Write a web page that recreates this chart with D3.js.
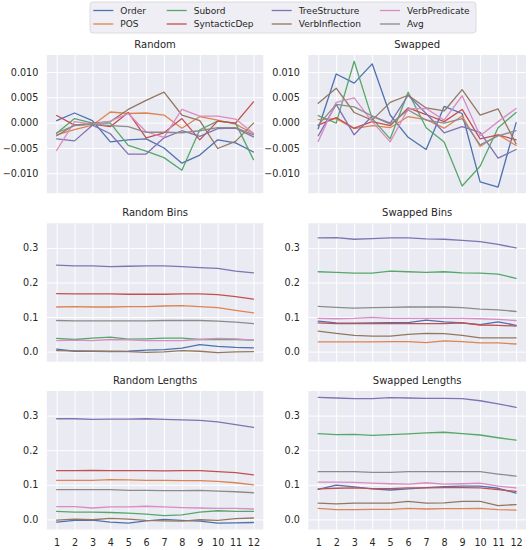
<!DOCTYPE html>
<html>
<head>
<meta charset="utf-8">
<script src="https://cdn.jsdelivr.net/npm/d3@7"></script>
<style>
  html, body { margin: 0; padding: 0; background: #fff; }
  svg { display: block; font-family: "DejaVu Sans", sans-serif; }
</style>
</head>
<body>
<svg id="chart" width="529" height="550"></svg>
<script>
// ---------- data ----------
const layers = [1,2,3,4,5,6,7,8,9,10,11,12];
const seriesNames = ["Order","POS","Subord","SyntacticDep","TreeStructure","VerbInflection","VerbPredicate","Avg"];
const seriesColors = ["#4c72b0","#dd8452","#55a868","#c44e52","#8172b3","#937860","#da8bc3","#8c8c8c"];
const panelTitles = ["Random","Swapped","Random Bins","Swapped Bins","Random Lengths","Swapped Lengths"];
const topTicks = [-0.010,-0.005,0.000,0.005,0.010];
const lowTicks = [0.0,0.1,0.2,0.3];

// Random
const randomOrder          = [0.0004,0.0019,0.0004,-0.0038,-0.0034,-0.0032,-0.0050,-0.0080,-0.0064,-0.0034,-0.0040,-0.0058];
const randomPOS            = [-0.0024,-0.0014,-0.0005,0.0021,0.0018,0.0019,0.0015,-0.0011,0.0012,0.0005,-0.0003,-0.0022];
const randomSubord         = [-0.0021,0.0008,-0.0001,-0.0001,-0.0045,-0.0056,-0.0069,-0.0094,-0.0014,0.0003,-0.0001,-0.0073];
const randomSyntacticDep   = [0.0014,-0.0005,-0.0003,-0.0008,0.0020,-0.0030,-0.0020,0.0008,-0.0034,0.0003,-0.0001,0.0041];
const randomTreeStructure  = [-0.0032,-0.0036,-0.0005,-0.0022,-0.0062,-0.0062,-0.0030,-0.0016,-0.0027,-0.0012,-0.0011,-0.0028];
const randomVerbInflection = [-0.0026,-0.0005,-0.0001,0.0002,0.0026,0.0044,0.0060,0.0015,0.0004,-0.0051,-0.0037,-0.0001];
const randomVerbPredicate  = [-0.0055,0.0002,-0.0003,0.0003,0.0018,-0.0018,-0.0029,0.0026,0.0013,0.0013,0.0007,-0.0021];
const randomAvg            = [-0.0020,-0.0006,-0.0003,-0.0006,-0.0008,-0.0019,-0.0019,-0.0020,-0.0016,-0.0010,-0.0010,-0.0024];

// Swapped
const swappedOrder          = [-0.0012,0.0096,0.0078,0.0116,0.0015,-0.0029,-0.0053,0.0032,0.0018,-0.0117,-0.0127,0.0000];
const swappedPOS            = [0.0006,0.0008,-0.0012,-0.0006,-0.0010,0.0012,0.0006,-0.0011,0.0013,-0.0047,-0.0024,-0.0045];
const swappedSubord         = [0.0014,-0.0001,0.0121,0.0008,-0.0032,0.0060,-0.0010,-0.0038,-0.0125,-0.0086,-0.0010,0.0020];
const swappedSyntacticDep   = [-0.0005,0.0010,-0.0011,0.0002,-0.0006,0.0029,0.0016,0.0002,0.0026,-0.0032,-0.0024,-0.0034];
const swappedTreeStructure  = [-0.0026,0.0036,-0.0024,0.0013,-0.0001,0.0054,0.0018,-0.0020,-0.0008,-0.0019,-0.0070,-0.0053];
const swappedVerbInflection = [0.0038,0.0068,0.0020,0.0005,0.0040,0.0054,0.0029,0.0023,0.0065,0.0015,0.0027,-0.0042];
const swappedVerbPredicate  = [-0.0037,0.0040,0.0049,0.0002,-0.0038,0.0027,0.0028,0.0005,0.0053,-0.0026,0.0002,0.0028];
const swappedAvg            = [-0.0005,0.0036,0.0031,0.0013,-0.0003,0.0025,0.0005,-0.0001,0.0008,-0.0044,-0.0026,-0.0016];

// Random Bins
const rbinsOrder          = [0.007,0.001,0.001,0.000,0.001,0.004,0.006,0.010,0.020,0.015,0.012,0.011];
const rbinsPOS            = [0.129,0.130,0.129,0.129,0.130,0.130,0.132,0.133,0.130,0.127,0.119,0.112];
const rbinsSubord         = [0.038,0.035,0.039,0.042,0.036,0.037,0.039,0.039,0.035,0.035,0.035,0.033];
const rbinsSyntacticDep   = [0.168,0.167,0.167,0.167,0.166,0.166,0.166,0.167,0.167,0.165,0.159,0.152];
const rbinsTreeStructure  = [0.250,0.248,0.248,0.246,0.247,0.248,0.248,0.246,0.243,0.241,0.233,0.228];
const rbinsVerbInflection = [0.003,0.002,0.001,0.001,0.000,-0.002,-0.001,0.003,0.001,-0.003,-0.001,0.000];
const rbinsVerbPredicate  = [0.032,0.033,0.032,0.035,0.034,0.032,0.032,0.032,0.035,0.038,0.037,0.033];
const rbinsAvg            = [0.090,0.089,0.089,0.089,0.089,0.089,0.090,0.090,0.090,0.088,0.085,0.081];

// Swapped Bins
const sbinsOrder          = [0.088,0.083,0.082,0.083,0.084,0.084,0.091,0.086,0.083,0.078,0.086,0.076];
const sbinsPOS            = [0.028,0.028,0.028,0.028,0.029,0.029,0.026,0.031,0.029,0.025,0.025,0.022];
const sbinsSubord         = [0.231,0.229,0.227,0.227,0.233,0.231,0.229,0.231,0.228,0.227,0.224,0.212];
const sbinsSyntacticDep   = [0.083,0.081,0.081,0.081,0.081,0.081,0.081,0.081,0.083,0.077,0.076,0.074];
const sbinsTreeStructure  = [0.329,0.330,0.325,0.327,0.329,0.329,0.326,0.325,0.322,0.318,0.310,0.300];
const sbinsVerbInflection = [0.059,0.053,0.047,0.045,0.045,0.050,0.053,0.052,0.047,0.040,0.040,0.040];
const sbinsVerbPredicate  = [0.096,0.095,0.096,0.099,0.096,0.096,0.096,0.096,0.096,0.095,0.093,0.090];
const sbinsAvg            = [0.131,0.128,0.126,0.127,0.128,0.129,0.129,0.129,0.127,0.123,0.121,0.116];

// Random Lengths
const rlenOrder          = [-0.008,-0.003,-0.002,-0.008,-0.011,-0.004,0.000,-0.003,-0.005,-0.011,-0.010,-0.009];
const rlenPOS            = [0.113,0.113,0.113,0.115,0.114,0.113,0.113,0.112,0.112,0.110,0.106,0.100];
const rlenSubord         = [0.023,0.021,0.021,0.020,0.018,0.015,0.011,0.013,0.021,0.025,0.023,0.023];
const rlenSyntacticDep   = [0.141,0.141,0.142,0.141,0.141,0.141,0.140,0.141,0.141,0.138,0.135,0.129];
const rlenTreeStructure  = [0.291,0.291,0.289,0.290,0.290,0.291,0.289,0.288,0.286,0.282,0.274,0.266];
const rlenVerbInflection = [-0.002,0.001,-0.001,0.003,0.001,-0.003,-0.004,-0.005,-0.001,-0.003,0.002,0.004];
const rlenVerbPredicate  = [0.037,0.037,0.033,0.036,0.036,0.038,0.036,0.034,0.033,0.032,0.032,0.030];
const rlenAvg            = [0.086,0.086,0.086,0.086,0.084,0.084,0.083,0.083,0.084,0.082,0.080,0.077];

// Swapped Lengths
const slenOrder          = [0.087,0.099,0.094,0.088,0.085,0.088,0.092,0.095,0.096,0.096,0.090,0.076];
const slenPOS            = [0.032,0.028,0.028,0.029,0.029,0.032,0.030,0.031,0.031,0.032,0.028,0.027];
const slenSubord         = [0.248,0.245,0.246,0.243,0.245,0.247,0.250,0.252,0.248,0.244,0.236,0.229];
const slenSyntacticDep   = [0.088,0.090,0.091,0.089,0.089,0.091,0.091,0.092,0.092,0.091,0.086,0.081];
const slenTreeStructure  = [0.353,0.351,0.349,0.349,0.352,0.351,0.350,0.350,0.349,0.343,0.334,0.324];
const slenVerbInflection = [0.047,0.045,0.047,0.047,0.047,0.052,0.047,0.048,0.052,0.052,0.040,0.043];
const slenVerbPredicate  = [0.108,0.108,0.107,0.105,0.103,0.102,0.106,0.102,0.103,0.105,0.096,0.091];
const slenAvg            = [0.138,0.138,0.138,0.136,0.136,0.138,0.138,0.138,0.138,0.138,0.131,0.125];

const panelData = [
  [randomOrder,randomPOS,randomSubord,randomSyntacticDep,randomTreeStructure,randomVerbInflection,randomVerbPredicate,randomAvg],
  [swappedOrder,swappedPOS,swappedSubord,swappedSyntacticDep,swappedTreeStructure,swappedVerbInflection,swappedVerbPredicate,swappedAvg],
  [rbinsOrder,rbinsPOS,rbinsSubord,rbinsSyntacticDep,rbinsTreeStructure,rbinsVerbInflection,rbinsVerbPredicate,rbinsAvg],
  [sbinsOrder,sbinsPOS,sbinsSubord,sbinsSyntacticDep,sbinsTreeStructure,sbinsVerbInflection,sbinsVerbPredicate,sbinsAvg],
  [rlenOrder,rlenPOS,rlenSubord,rlenSyntacticDep,rlenTreeStructure,rlenVerbInflection,rlenVerbPredicate,rlenAvg],
  [slenOrder,slenPOS,slenSubord,slenSyntacticDep,slenTreeStructure,slenVerbInflection,slenVerbPredicate,slenAvg]
];

// ---------- layout ----------
const svg = d3.select("#chart");
const colX = [[46.8, 263.3], [308.3, 526]];
const rowY = [[55, 193.3], [223.3, 361.7], [391, 529.5]];
const textColor = "#262626";

function paddedExtent(arrs) {
  const all = arrs.flat();
  const [mn, mx] = d3.extent(all);
  const pad = (mx - mn) * 0.05;
  return [mn - pad, mx + pad];
}
const topDomain = paddedExtent(panelData.slice(0,2).flat());
const lowDomain = paddedExtent(panelData.slice(2).flat());
const xDomain = [1 - 0.55, 12 + 0.55];

panelData.forEach((series, i) => {
  const row = Math.floor(i / 2), col = i % 2;
  const [x0, x1] = colX[col], [y0, y1] = rowY[row];
  const x = d3.scaleLinear().domain(xDomain).range([x0, x1]);
  const y = d3.scaleLinear().domain(row === 0 ? topDomain : lowDomain).range([y1, y0]);
  const ticks = row === 0 ? topTicks : lowTicks;
  const fmt = d3.format(row === 0 ? ".3f" : ".1f");
  const g = svg.append("g");

  g.append("rect").attr("x", x0).attr("y", y0).attr("width", x1 - x0).attr("height", y1 - y0)
    .attr("fill", "#eaeaf2");

  // grid
  const yAxis = d3.axisLeft(y).tickValues(ticks).tickFormat(fmt).tickSize(-(x1 - x0)).tickPadding(8.5);
  const ya = g.append("g").attr("transform", `translate(${x0},0)`).call(yAxis);
  ya.select(".domain").remove();
  ya.selectAll("line").attr("stroke", "#fff").attr("stroke-width", 1);
  ya.selectAll("text").attr("fill", textColor).style("font-size", "9.6px").style("font-family", "DejaVu Sans");

  const xAxis = d3.axisBottom(x).tickValues(layers).tickFormat(d3.format("d")).tickSize(-(y1 - y0)).tickPadding(9.5);
  const xa = g.append("g").attr("transform", `translate(0,${y1})`).call(xAxis);
  xa.select(".domain").remove();
  xa.selectAll("line").attr("stroke", "#fff").attr("stroke-width", 1);
  xa.selectAll("text").attr("fill", textColor).style("font-size", "9.6px").style("font-family", "DejaVu Sans")
    .style("display", row === 2 ? null : "none");

  const line = d3.line().x((d, k) => x(layers[k])).y(d => y(d));
  g.append("g")
    .selectAll("path").data(series).join("path")
    .attr("d", d => line(d))
    .attr("fill", "none")
    .attr("stroke", (d, k) => seriesColors[k])
    .attr("stroke-width", 1.3)
    .attr("stroke-linejoin", "round")
    .attr("stroke-linecap", "round");

  g.append("text").attr("x", (x0 + x1) / 2).attr("y", y0 - 7)
    .attr("text-anchor", "middle").attr("fill", textColor)
    .style("font-size", "10px").text(panelTitles[i]);
});

// ---------- legend ----------
const legend = svg.append("g");
legend.append("rect").attr("x", 90).attr("y", 2).attr("width", 386).attr("height", 31).attr("rx", 3)
  .attr("fill", "#eeeef4").attr("stroke", "#d4d4d8").attr("stroke-width", 0.8);
const legendColX = [93.3, 166.7, 271.7, 380];
const legendRowY = [10.5, 24];
seriesNames.forEach((name, k) => {
  const c = Math.floor(k / 2), r = k % 2;
  const lx = legendColX[c], ly = legendRowY[r];
  legend.append("line").attr("x1", lx).attr("x2", lx + 20).attr("y1", ly).attr("y2", ly)
    .attr("stroke", seriesColors[k]).attr("stroke-width", 1.3);
  legend.append("text").attr("x", lx + 27).attr("y", ly).attr("dy", "0.35em")
    .attr("fill", textColor).style("font-size", "9px").text(name);
});
</script>
</body>
</html>
